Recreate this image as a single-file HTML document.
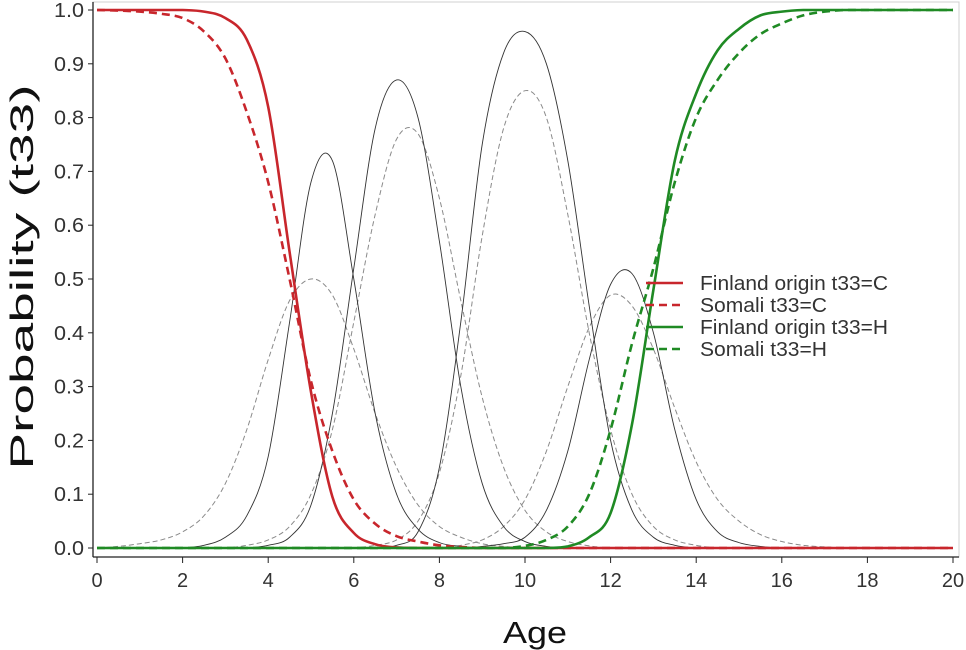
<!DOCTYPE html>
<html><head><meta charset="utf-8"><style>
html,body{margin:0;padding:0;background:#fff;}
svg{display:block;font-family:"Liberation Sans",Arial,sans-serif;}
</style></head><body>
<svg id="chart" width="966" height="650" viewBox="0 0 966 650" xmlns="http://www.w3.org/2000/svg">
<rect x="93" y="2" width="866" height="555" fill="#fff" stroke="#d0d0d0" stroke-width="1"/>
<g id="series"></g>
<g id="axes"></g>
<g id="legend"></g>
<text x="535" y="643" font-size="31" text-anchor="middle" fill="#111" textLength="64" lengthAdjust="spacingAndGlyphs">Age</text>
<text transform="translate(33,277) rotate(-90)" font-size="32" text-anchor="middle" fill="#111" textLength="385" lengthAdjust="spacingAndGlyphs">Probability (t33)</text>
</svg>
<script>
const ages = [0,0.5,1,1.5,2,2.5,3,3.5,4,4.5,5,5.5,6,6.5,7,7.5,8,8.5,9,9.5,10,10.5,11,11.5,12,12.5,13,13.5,14,14.5,15,15.5,16,16.5,17,17.5,18,18.5,19,19.5,20];
const xTicks = [0,2,4,6,8,10,12,14,16,18,20];
const yTicks = [0,0.1,0.2,0.3,0.4,0.5,0.6,0.7,0.8,0.9,1.0];
const yTickLabels = ["0.0","0.1","0.2","0.3","0.4","0.5","0.6","0.7","0.8","0.9","1.0"];
const finC = [1,1,1,1,1,0.997,0.985,0.945,0.82,0.55,0.29,0.095,0.028,0.007,0.001,0,0,0,0,0,0,0,0,0,0,0,0,0,0,0,0,0,0,0,0,0,0,0,0,0,0];
const somC = [1,0.999,0.997,0.993,0.985,0.96,0.91,0.81,0.68,0.5,0.31,0.18,0.09,0.045,0.022,0.012,0.005,0.002,0,0,0,0,0,0,0,0,0,0,0,0,0,0,0,0,0,0,0,0,0,0,0];
const finH = [0,0,0,0,0,0,0,0,0,0,0,0,0,0,0,0,0,0,0,0,0,0,0.003,0.02,0.065,0.23,0.48,0.72,0.845,0.925,0.965,0.99,0.997,1,1,1,1,1,1,1,1];
const somH = [0,0,0,0,0,0,0,0,0,0,0,0,0,0,0,0,0,0,0,0,0.004,0.015,0.04,0.1,0.22,0.38,0.52,0.68,0.8,0.87,0.92,0.955,0.975,0.99,0.997,1,1,1,1,1,1];
const finB1 = [0,0,0,0,0,0.005,0.02,0.06,0.17,0.42,0.68,0.72,0.5,0.25,0.1,0.035,0.01,0.003,0,0,0,0,0,0,0,0,0,0,0,0,0,0,0,0,0,0,0,0,0,0,0];
const finB2 = [0,0,0,0,0,0,0,0,0.005,0.02,0.08,0.25,0.52,0.78,0.87,0.8,0.57,0.3,0.12,0.04,0.012,0.003,0,0,0,0,0,0,0,0,0,0,0,0,0,0,0,0,0,0,0];
const finB3 = [0,0,0,0,0,0,0,0,0,0,0,0,0,0,0.005,0.03,0.15,0.42,0.75,0.92,0.96,0.9,0.72,0.45,0.2,0.07,0.02,0.005,0,0,0,0,0,0,0,0,0,0,0,0,0];
const finB4 = [0,0,0,0,0,0,0,0,0,0,0,0,0,0,0,0,0,0,0.003,0.008,0.02,0.07,0.18,0.35,0.49,0.51,0.4,0.22,0.09,0.03,0.01,0.003,0,0,0,0,0,0,0,0,0];
const somB1 = [0,0.003,0.008,0.015,0.03,0.06,0.12,0.22,0.35,0.46,0.5,0.47,0.37,0.25,0.15,0.08,0.04,0.02,0.008,0.003,0,0,0,0,0,0,0,0,0,0,0,0,0,0,0,0,0,0,0,0,0];
const somB2 = [0,0,0,0,0,0,0,0.005,0.015,0.04,0.1,0.22,0.42,0.62,0.76,0.77,0.65,0.46,0.28,0.15,0.07,0.03,0.012,0.004,0,0,0,0,0,0,0,0,0,0,0,0,0,0,0,0,0];
const somB3 = [0,0,0,0,0,0,0,0,0,0,0,0,0,0.005,0.015,0.05,0.14,0.32,0.58,0.78,0.85,0.8,0.62,0.4,0.22,0.1,0.04,0.015,0.005,0,0,0,0,0,0,0,0,0,0,0,0];
const somB4 = [0,0,0,0,0,0,0,0,0,0,0,0,0,0,0,0,0,0.005,0.015,0.04,0.09,0.18,0.3,0.41,0.47,0.45,0.37,0.26,0.16,0.09,0.05,0.025,0.012,0.005,0.002,0,0,0,0,0,0];
const legendLabels = ["Finland origin t33=C","Somali t33=C","Finland origin t33=H","Somali t33=H"];

const NS = "http://www.w3.org/2000/svg";
const X = a => 97 + a * (953 - 97) / 20;
const Y = v => 548 - v * (548 - 10);
function mk(tag, attrs, parent){const e=document.createElementNS(NS,tag);for(const k in attrs)e.setAttribute(k,attrs[k]);parent.appendChild(e);return e;}
function pathFor(vals){
  const pts = ages.map((a,i)=>[X(a),Y(vals[i])]);
  let d = "M"+pts[0][0].toFixed(2)+","+pts[0][1].toFixed(2);
  for(let i=0;i<pts.length-1;i++){
    const p0=pts[Math.max(0,i-1)],p1=pts[i],p2=pts[i+1],p3=pts[Math.min(pts.length-1,i+2)];
    const c1=[p1[0]+(p2[0]-p0[0])/6,p1[1]+(p2[1]-p0[1])/6];
    const c2=[p2[0]-(p3[0]-p1[0])/6,p2[1]-(p3[1]-p1[1])/6];
    c1[1]=Math.max(Math.min(c1[1],Y(0)),Y(1));c2[1]=Math.max(Math.min(c2[1],Y(0)),Y(1));
    d+=" C"+c1[0].toFixed(2)+","+c1[1].toFixed(2)+" "+c2[0].toFixed(2)+","+c2[1].toFixed(2)+" "+p2[0].toFixed(2)+","+p2[1].toFixed(2);
  }
  return d;
}
const sg = document.getElementById("series");
const thin = [[finB1,"finland-state-curve-1"],[finB2,"finland-state-curve-2"],[finB3,"finland-state-curve-3"],[finB4,"finland-state-curve-4"]];
const thinD = [[somB1,"somali-state-curve-1"],[somB2,"somali-state-curve-2"],[somB3,"somali-state-curve-3"],[somB4,"somali-state-curve-4"]];
thinD.forEach(s=>{
  const p=mk("path",{d:pathFor(s[0]),fill:"none",stroke:"#8a8a8a","stroke-width":"1","stroke-dasharray":"5,3"},sg);
  
  
});
thin.forEach(s=>{
  const p=mk("path",{d:pathFor(s[0]),fill:"none",stroke:"#333","stroke-width":"0.9"},sg);
  
  
});
const thick = [[somC,"#c8262c","8,5","somali-t33-c-line"],[finC,"#c8262c","","finland-t33-c-line"],[somH,"#1f8a24","8,5","somali-t33-h-line"],[finH,"#1f8a24","","finland-t33-h-line"]];
thick.forEach(s=>{
  const a={d:pathFor(s[0]),fill:"none",stroke:s[1],"stroke-width":"2.6"};
  if(s[2])a["stroke-dasharray"]=s[2];
  const p=mk("path",a,sg);
  
  
});
const ax = document.getElementById("axes");
const yl=mk("line",{x1:93,y1:2,x2:93,y2:557,stroke:"#222","stroke-width":"1.3"},ax);


const xl=mk("line",{x1:93,y1:557,x2:959,y2:557,stroke:"#222","stroke-width":"1.3"},ax);


yTicks.forEach((v,i)=>{
  const t=mk("line",{x1:88,y1:Y(v),x2:93,y2:Y(v),stroke:"#222","stroke-width":"1"},ax);
  
  
  const l=mk("text",{x:84,y:Y(v)+7,"font-size":"20","text-anchor":"end",fill:"#333",textLength:"30",lengthAdjust:"spacingAndGlyphs"},ax);
  l.textContent=yTickLabels[i];
  
  
});
xTicks.forEach(a=>{
  const t=mk("line",{x1:X(a),y1:557,x2:X(a),y2:563,stroke:"#222","stroke-width":"1"},ax);
  
  
  const l=mk("text",{x:X(a),y:587,"font-size":"20","text-anchor":"middle",fill:"#333"},ax);
  l.textContent=String(a);
  
  
});
const lg=document.getElementById("legend");
const legendColors=["#c8262c","#c8262c","#1f8a24","#1f8a24"];
const legendDash=["","8,5","","8,5"];
const legendWidths=[188,127,188,127];
legendLabels.forEach((t,i)=>{
  const y=283+i*22;
  const a={x1:646,y1:y,x2:683,y2:y,stroke:legendColors[i],"stroke-width":"2.6"};
  if(legendDash[i])a["stroke-dasharray"]=legendDash[i];
  const ln=mk("line",a,lg);
  
  
  const tx=mk("text",{x:700,y:y+7,"font-size":"20",fill:"#333",textLength:legendWidths[i],lengthAdjust:"spacingAndGlyphs"},lg);
  tx.textContent=t;
  
  
});
</script>
</body></html>
